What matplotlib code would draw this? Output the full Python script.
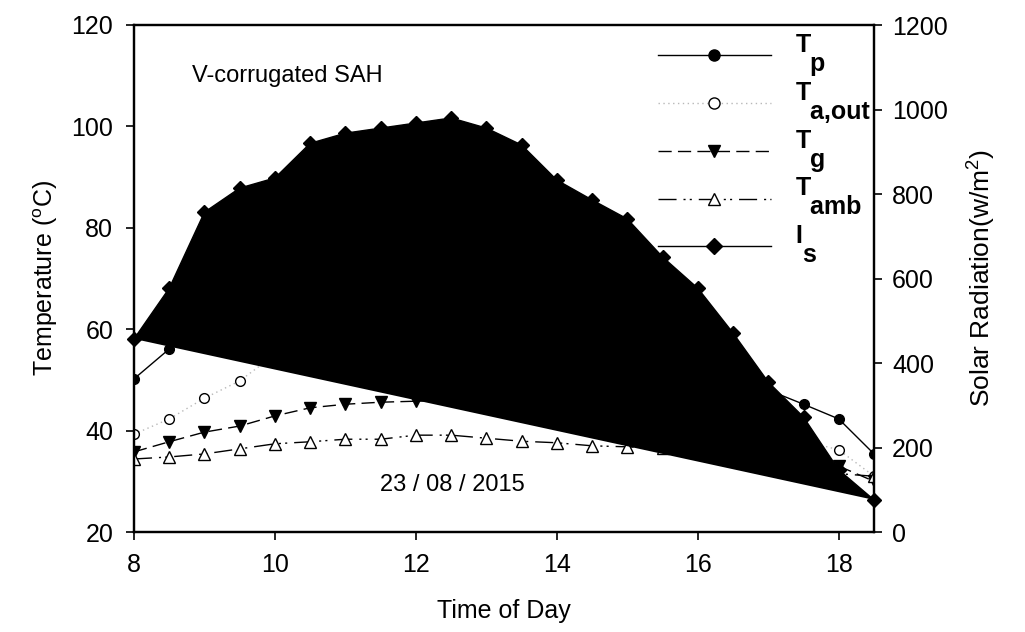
import matplotlib
matplotlib.use("Agg")
import matplotlib.pyplot as plt
from matplotlib.lines import Line2D

plt.rcParams['font.family'] = ['Liberation Sans', 'DejaVu Sans']
plt.rcParams['mathtext.fontset'] = 'custom'
plt.rcParams['mathtext.rm'] = 'Liberation Sans'
plt.rcParams['mathtext.bf'] = 'Liberation Sans:bold'

time = [8, 8.5, 9, 9.5, 10, 10.5, 11, 11.5, 12, 12.5, 13, 13.5, 14, 14.5,
        15, 15.5, 16, 16.5, 17, 17.5, 18, 18.5]

t_p = [50.2, 56.1, 60, 63, 65.5, 67.5, 69, 70, 71, 71.5, 71, 70, 68, 65.5,
       63, 60, 57, 53.5, 48, 45.2, 42.3, 35.4]
t_aout = [39.3, 42.3, 46.4, 49.8, 55, 56, 56.5, 57, 57.5, 57.5, 56.5, 55, 53,
          51, 49, 46.5, 44, 42, 40, 38, 36.2, 31]
t_g = [35.8, 37.8, 39.7, 40.9, 42.9, 44.5, 45.2, 45.6, 45.8, 46, 46.2, 46,
       45.5, 45, 44, 43, 42, 40, 38, 36, 33, 30]
t_amb = [34.4, 34.8, 35.4, 36.4, 37.4, 37.8, 38.3, 38.3, 39.1, 39.1, 38.5,
         37.9, 37.6, 37.0, 36.8, 36.5, 36, 35.5, 34.5, 33.5, 31.5, 31]
i_s = [457, 577, 757, 814, 838, 920, 944, 956, 968, 980, 956, 916, 833, 786,
       741, 651, 577, 471, 355, 272, 147, 76]

fig = plt.figure(figsize=(10.25, 6.32), dpi=100)
ax1 = fig.add_axes([134 / 1025, 1 - 532 / 632, 740 / 1025, 507 / 632])
ax2 = ax1.twinx()

lw = 1.0
ax1.plot(time, t_p, color='black', lw=lw, marker='o', ms=7, mfc='black', mec='black')
ax1.plot(time, t_aout, color='#b8b8b8', lw=lw, ls=(0, (1, 2.5)),
         marker='o', ms=7, mfc='white', mec='black')
ax1.plot(time, t_g, color='black', lw=lw, ls=(0, (9.5, 4.5)),
         marker='v', ms=8, mfc='black', mec='black')
ax1.plot(time, t_amb, color='black', lw=lw, ls=(0, (13, 5, 1.5, 3, 1.5, 5)),
         marker='^', ms=8, mfc='white', mec='black')

# solar radiation: polygon closed straight from first to last point
ax2.fill(time, i_s, color='black', lw=0)
ax2.plot(time, i_s, color='black', lw=lw, marker='D', ms=7, mfc='black', mec='black',
         clip_on=False)

ax1.set_xlim(8, 18.5)
ax1.set_ylim(20, 120)
ax2.set_ylim(0, 1200)
ax1.set_xticks([8, 10, 12, 14, 16, 18])
ax1.set_yticks([20, 40, 60, 80, 100, 120])
ax2.set_yticks([0, 200, 400, 600, 800, 1000, 1200])

fs = 18
for ax in (ax1, ax2):
    ax.tick_params(direction='out', length=6, width=1.2, labelsize=fs, pad=7)
    for sp in ax.spines.values():
        sp.set_linewidth(1.6)
ax1.tick_params(axis='y', pad=9)
ax1.tick_params(axis='x', pad=9)

ax1.set_xlabel('Time of Day', fontsize=fs, labelpad=16)
ax1.set_ylabel('Temperature ($^{\\mathrm{o}}$C)', fontsize=fs, labelpad=8)
ax2.set_ylabel('Solar Radiation(w/m$^{2}$)', fontsize=19, labelpad=12)

ax1.text(10.18, 110, 'V-corrugated SAH', fontsize=17, ha='center', va='center')
ax1.text(12.52, 29.3, '23 / 08 / 2015', fontsize=17, ha='center', va='center')

handles = [
    Line2D([], [], color='black', lw=lw, marker='o', ms=8, mfc='black'),
    Line2D([], [], color='#b8b8b8', lw=lw, ls=(0, (1, 2.5)), marker='o', ms=8,
           mfc='white', mec='black'),
    Line2D([], [], color='black', lw=lw, ls=(0, (9.5, 4.5)), marker='v', ms=9,
           mfc='black'),
    Line2D([], [], color='black', lw=lw, ls=(0, (13, 5, 1.5, 3, 1.5, 5)),
           marker='^', ms=9, mfc='white', mec='black'),
    Line2D([], [], color='black', lw=lw, marker='D', ms=8, mfc='black'),
]
labels = ['T\n  p', 'T\n  a,out', 'T\n  g', 'T\n  amb', 'I\n s']
leg = fig.legend(handles, labels, loc='upper left',
                 bbox_to_anchor=(658 / 1025, 1 - 33 / 632),
                 bbox_transform=fig.transFigure, frameon=False,
                 prop={'size': 18, 'weight': 'bold'},
                 handlelength=4.5, handletextpad=1.0, labelspacing=0.18,
                 borderpad=0, borderaxespad=0)
for t in leg.get_texts():
    t.set_linespacing(0.75)

fig.savefig('out.png', dpi=100)
